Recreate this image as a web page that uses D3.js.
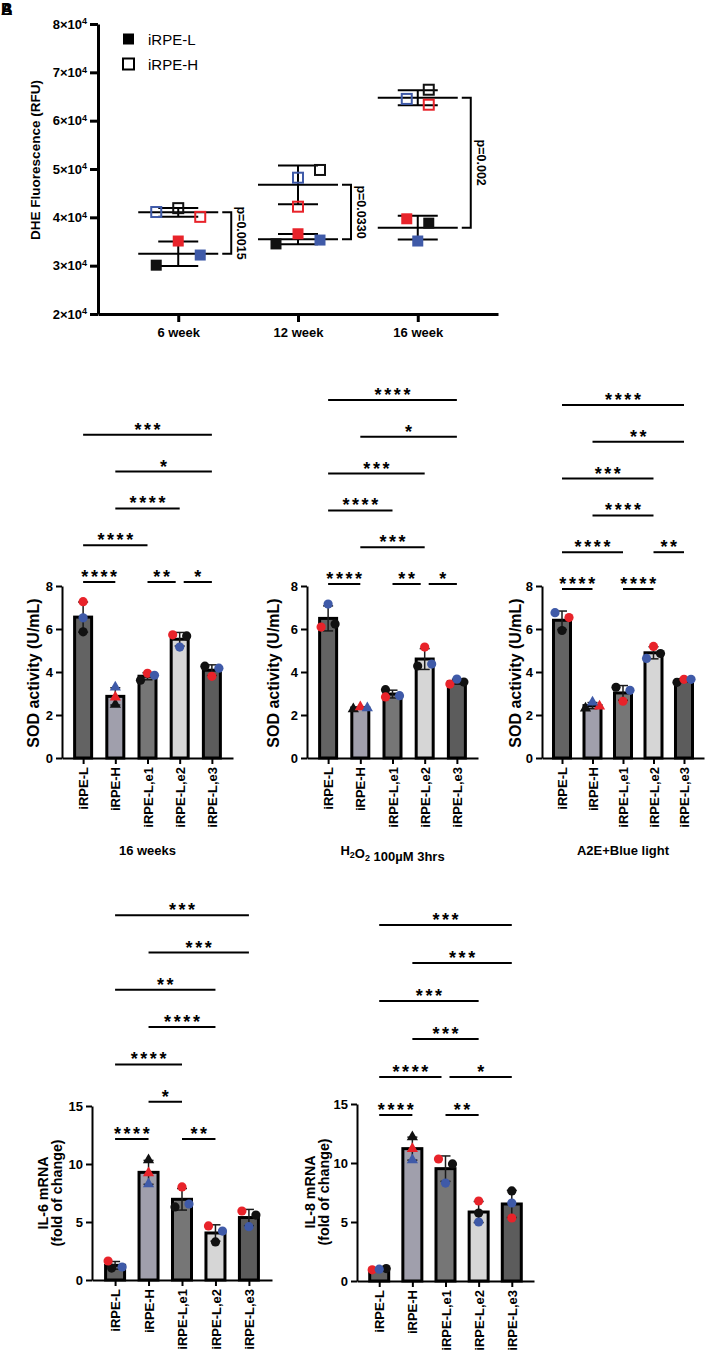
<!DOCTYPE html>
<html>
<head>
<meta charset="utf-8">
<script src="https://cdn.jsdelivr.net/npm/d3@7"></script>
<style>
body { margin: 0; background: #fff; }
svg { font-family: "Liberation Sans", Arial, Helvetica, sans-serif; }
</style>
</head>
<body>
<svg id="fig" width="707" height="1354"></svg>
<script>
// ---- data : A (DHE fluorescence) ----
const weeks = ["6 week", "12 week", "16 week"];
const dheTicks = [20000, 30000, 40000, 50000, 60000, 70000, 80000];
const dheL_black = [30100, 34500, 38800];
const dheL_red   = [35100, 36600, 39700];
const dheL_blue  = [32200, 35300, 35100];
const dheH_black = [41900, 49800, 66400];
const dheH_red   = [40100, 42200, 63300];
const dheH_blue  = [41100, 48200, 64500];
const dheP = ["p=0.0015", "p=0.0330", "p=0.002"];

// ---- data : SOD activity ----
const cats = ["iRPE-L", "iRPE-H", "iRPE-L,e1", "iRPE-L,e2", "iRPE-L,e3"];
const sodTicks = [0, 2, 4, 6, 8];
const sod16_black = [5.87, 2.49, 3.62, 5.68, 4.27];
const sod16_red   = [7.27, 2.82, 3.94, 5.73, 3.80];
const sod16_blue  = [6.52, 3.29, 3.85, 5.16, 4.18];
const sod16_sig = [[0,1,"****",0],[2,3,"**",0],[3,4,"*",0],[0,2,"****",1],[1,3,"****",2],[1,4,"*",3],[0,4,"***",4]];
const sodH2_black = [6.23, 2.28, 3.18, 4.28, 3.53];
const sodH2_red   = [6.09, 2.37, 2.84, 5.16, 3.44];
const sodH2_blue  = [7.16, 2.33, 2.90, 4.37, 3.67];
const sodH2_sig = [[0,1,"****",0],[2,3,"**",0],[3,4,"*",0],[1,3,"***",1],[0,2,"****",2],[0,3,"***",3],[1,4,"*",4],[0,4,"****",5]];
const sodA2E_black = [5.93, 2.31, 3.29, 4.86, 3.52];
const sodA2E_red   = [6.53, 2.41, 2.64, 5.19, 3.66];
const sodA2E_blue  = [6.76, 2.59, 3.15, 4.63, 3.66];
const sodA2E_sig = [[0,1,"****",0],[2,3,"****",0],[0,2,"****",1],[3,4,"**",1],[1,3,"****",2],[0,3,"***",3],[1,4,"**",4],[0,4,"****",5]];

// ---- data : IL-6 / IL-8 mRNA ----
const ilTicks = [0, 5, 10, 15];
const il6_black = [1.03, 10.34, 6.30, 3.28, 5.60];
const il6_red   = [1.64, 9.22, 8.02, 4.66, 5.95];
const il6_blue  = [1.12, 8.28, 6.55, 4.22, 4.60];
const il6_sig = [[0,1,"****",0],[2,3,"**",0],[1,2,"*",1],[0,2,"****",2],[1,3,"****",3],[0,3,"**",4],[1,4,"***",5],[0,4,"***",6]];
const il8_black = [1.05, 12.2, 9.92, 5.76, 7.63];
const il8_red   = [0.95, 11.2, 10.34, 6.78, 5.34];
const il8_blue  = [1.00, 10.25, 8.30, 5.00, 6.61];
const il8_sig = [[0,1,"****",0],[2,3,"**",0],[0,2,"****",1],[2,4,"*",1],[1,3,"***",2],[0,3,"***",3],[1,4,"***",4],[0,4,"***",5]];

// horizontal spread of the replicate dots (in slots), layout only
const dheJitL = {black: [-2, -2, 1], red: [0, 0, -1], blue: [2, 2, 0]};
const dheJitH = {black: [0, 2, 1], red: [2, 0, 1], blue: [-2, 0, -1]};
const sod16Jit = {black: [0,0,-1,1,-1], red: [0,0,0,-1,0], blue: [0,0,1,0,1]};
const sodH2Jit = {black: [1,-1,-1,-1,1], red: [-1,0,-1,0,-1], blue: [0,1,1,1,0]};
const sodA2EJit = {black: [0,-1,-1,1,-1], red: [1,1,0,0,0], blue: [-1,0,1,-1,1]};
const il6Jit = {black: [-0.5,0,-1,0,1], red: [-1,0,0,-1,-1], blue: [1,0,1,1,0]};
const il8Jit = {black: [1,0,1,0,0], red: [-1,0,-1,0,0], blue: [0,0,0,0,0]};

const repCol = {black: "#111111", red: "#e8232a", blue: "#3f5aa8"};
const barFill = ["#636363", "#a09fac", "#767676", "#d6d6d6", "#5c5c5c"];

const svg = d3.select("#fig");

function styleAxis(ax, w) {
  ax.attr("font-family", null).attr("font-size", null);
  ax.select(".domain").attr("stroke", "#000").attr("stroke-width", w);
  ax.selectAll(".tick line").attr("stroke", "#000").attr("stroke-width", w);
  ax.selectAll(".tick text").attr("fill", "#000").style("font-weight", "bold").style("font-size", "13px");
}

// panel letters (overlapping in the source)
svg.append("text").attr("x", 1).attr("y", 15).style("font-weight", "bold").style("font-size", "16px").text("A");
svg.append("text").attr("x", 1).attr("y", 15).style("font-weight", "bold").style("font-size", "16px").text("B");

// ================= A : DHE =================
const yA = d3.scaleLinear().domain([20000, 80000]).range([314, 24]);
const xA = d3.scalePoint().domain(weeks).range([98, 498]).padding(0.67);

const axYA = svg.append("g").attr("transform", "translate(98,0)")
  .call(d3.axisLeft(yA).tickValues(dheTicks).tickSize(8).tickSizeOuter(0));
styleAxis(axYA, 3);
axYA.selectAll(".tick text").text(null).each(function(d) {
  const t = d3.select(this);
  t.append("tspan").text(d / 10000 + "×10");
  t.append("tspan").attr("dy", "-0.5em").style("font-size", "9px").text("4");
});

const axXA = svg.append("g").attr("transform", "translate(0,314)")
  .call(d3.axisBottom(xA).tickSize(8).tickSizeOuter(0));
styleAxis(axXA, 3);
axXA.selectAll(".tick text").attr("y", 14);

svg.append("text").attr("transform", "translate(35,160) rotate(-90)")
  .attr("text-anchor", "middle").attr("dy", "0.35em")
  .style("font-weight", "bold").style("font-size", "13.5px")
  .text("DHE Fluorescence (RFU)");

// legend
[["iRPE-L", false, 39], ["iRPE-H", true, 64]].forEach(([lab, open, ly]) => {
  svg.append("rect").attr("x", 123).attr("y", ly - 5.5).attr("width", 11).attr("height", 11)
    .attr("fill", open ? "none" : "#000").attr("stroke", "#000").attr("stroke-width", open ? 2 : 0);
  svg.append("text").attr("x", 148).attr("y", ly + 5.5).style("font-size", "15px").text(lab);
});

const gA = svg.append("g");
weeks.forEach((w, i) => {
  const cx = xA(w);
  const groups = [
    {open: false, reps: {black: dheL_black[i], red: dheL_red[i], blue: dheL_blue[i]}, jit: dheJitL},
    {open: true,  reps: {black: dheH_black[i], red: dheH_red[i], blue: dheH_blue[i]}, jit: dheJitH}
  ];
  const means = [];
  groups.forEach(g => {
    const vals = Object.values(g.reps);
    const m = d3.mean(vals), s = d3.deviation(vals);
    means.push(yA(m));
    gA.append("line").attr("x1", cx - 40).attr("x2", cx + 40).attr("y1", yA(m)).attr("y2", yA(m))
      .attr("stroke", "#000").attr("stroke-width", 2);
    gA.append("line").attr("x1", cx).attr("x2", cx).attr("y1", yA(m - s)).attr("y2", yA(m + s))
      .attr("stroke", "#000").attr("stroke-width", 2);
    [m - s, m + s].forEach(v => gA.append("line").attr("x1", cx - 20).attr("x2", cx + 20)
      .attr("y1", yA(v)).attr("y2", yA(v)).attr("stroke", "#000").attr("stroke-width", 2));
  });
  groups.forEach(g => {
    Object.keys(g.reps).forEach(k => {
      const px = cx + g.jit[k][i] * 11, py = yA(g.reps[k]);
      if (g.open) {
        gA.append("rect").attr("x", px - 5).attr("y", py - 5).attr("width", 10).attr("height", 10)
          .attr("fill", "none").attr("stroke", repCol[k]).attr("stroke-width", 2);
      } else {
        gA.append("rect").attr("x", px - 5.5).attr("y", py - 5.5).attr("width", 11).attr("height", 11)
          .attr("fill", repCol[k]);
      }
    });
  });
  // significance bracket
  gA.append("path")
    .attr("d", `M${cx + 44},${means[1]}H${cx + 53}V${means[0]}H${cx + 44}`)
    .attr("fill", "none").attr("stroke", "#000").attr("stroke-width", 2);
  gA.append("text").attr("transform", `translate(${cx + 59},${(means[0] + means[1]) / 2}) rotate(90)`)
    .attr("text-anchor", "middle").style("font-weight", "bold").style("font-size", "12.5px")
    .text(dheP[i]);
});

// ================= bar panels =================
function barPanel(p) {
  const g = svg.append("g");
  const x = d3.scalePoint().domain(cats).range([p.x0, p.x1]).padding(p.pad);
  const y = d3.scaleLinear().domain([0, p.max]).range([p.y0, p.y1]);

  cats.forEach((c, i) => {
    const reps = {black: p.black[i], red: p.red[i], blue: p.blue[i]};
    const vals = Object.values(reps);
    const m = d3.mean(vals), s = d3.deviation(vals);
    const cx = x(c);
    g.append("rect").attr("x", cx - p.bw / 2).attr("y", y(m)).attr("width", p.bw).attr("height", y(0) - y(m))
      .attr("fill", barFill[i]).attr("stroke", "#000").attr("stroke-width", 3);
    g.append("line").attr("x1", cx).attr("x2", cx).attr("y1", y(m - s)).attr("y2", y(m + s))
      .attr("stroke", "#1a1a1a").attr("stroke-width", 1.5);
    [m - s, m + s].forEach(v => g.append("line").attr("x1", cx - 5).attr("x2", cx + 5)
      .attr("y1", y(v)).attr("y2", y(v)).attr("stroke", "#1a1a1a").attr("stroke-width", 1.5));
    Object.keys(reps).forEach(k => {
      const px = cx + p.jit[k][i] * 7, py = y(reps[k]);
      if (i === 1) {
        g.append("path").attr("d", d3.symbol(d3.symbolTriangle, 55)())
          .attr("transform", `translate(${px},${py})`).attr("fill", repCol[k]);
      } else {
        g.append("circle").attr("cx", px).attr("cy", py).attr("r", 4.6).attr("fill", repCol[k]);
      }
    });
  });

  const ay = g.append("g").attr("transform", `translate(${p.x0},0)`)
    .call(d3.axisLeft(y).tickValues(p.ticks).tickSize(6).tickSizeOuter(0));
  styleAxis(ay, 2);
  const ax = g.append("g").attr("transform", `translate(0,${p.y0})`)
    .call(d3.axisBottom(x).tickSize(6).tickSizeOuter(0));
  styleAxis(ax, 2);
  ax.selectAll(".tick text").attr("transform", "rotate(-90)").attr("x", -9).attr("y", 0)
    .attr("dy", "0.35em").style("text-anchor", "end");

  // y title
  p.title.forEach((t, j) => {
    g.append("text").attr("transform", `translate(${p.titleX[j]},${p.titleY}) rotate(-90)`)
      .attr("text-anchor", "middle").attr("dy", "0.35em")
      .style("font-weight", "bold").style("font-size", p.titleSize).text(t);
  });

  // condition label under the panel
  if (p.cond) {
    const t = g.append("text").attr("x", (x(cats[0]) + x(cats[4])) / 2).attr("y", p.condY)
      .attr("text-anchor", "middle").style("font-weight", "bold").style("font-size", "13px");
    p.cond.forEach(([s, sub]) => {
      t.append("tspan").attr("dy", sub ? 3 : 0).style("font-size", sub ? "9px" : null).text(s);
      if (sub) t.append("tspan").attr("dy", -3).text("");
    });
  }

  // significance lines
  p.sig.forEach(sg => {
    const [a, b, lab, row] = sg;
    let xa = x(cats[a]), xb = x(cats[b]);
    if (p.sig.some(q => q !== sg && q[3] === row && q[1] === a)) xa += 4;
    if (p.sig.some(q => q !== sg && q[3] === row && q[0] === b)) xb -= 4;
    const yy = p.sigBase - row * p.sigStep;
    g.append("line").attr("x1", xa).attr("x2", xb).attr("y1", yy).attr("y2", yy)
      .attr("stroke", "#000").attr("stroke-width", 2);
    g.append("text").attr("x", (xa + xb) / 2 + 1.3).attr("y", yy + 1)
      .attr("text-anchor", "middle").style("font-size", "18px").style("font-weight", "bold")
      .style("letter-spacing", "2.6px").text(lab);
  });
  return g;
}

const sodCommon = {max: 8, ticks: sodTicks, y0: 758, y1: 586, bw: 17, pad: 0.656,
  title: ["SOD activity (U/mL)"], titleY: 673, titleSize: "16px", sigStep: 36.8, condY: 855};

barPanel(Object.assign({}, sodCommon, {x0: 62, x1: 233, black: sod16_black, red: sod16_red, blue: sod16_blue,
  jit: sod16Jit, sig: sod16_sig, sigBase: 582, titleX: [33], cond: [["16 weeks"]]}));
barPanel(Object.assign({}, sodCommon, {x0: 307, x1: 478, black: sodH2_black, red: sodH2_red, blue: sodH2_blue,
  jit: sodH2Jit, sig: sodH2_sig, sigBase: 584, titleX: [273],
  cond: [["H"], ["2", true], ["O"], ["2", true], [" 100µM 3hrs"]]}));
barPanel(Object.assign({}, sodCommon, {x0: 542, x1: 704, black: sodA2E_black, red: sodA2E_red, blue: sodA2E_blue,
  jit: sodA2EJit, sig: sodA2E_sig, sigBase: 589, titleX: [515], cond: [["A2E+Blue light"]]}));

const ilCommon = {max: 15, ticks: ilTicks, bw: 19, titleSize: "14.3px"};
barPanel(Object.assign({}, ilCommon, {x0: 92, x1: 272, pad: 0.69, y0: 1280, y1: 1106,
  black: il6_black, red: il6_red, blue: il6_blue, jit: il6Jit, sig: il6_sig, sigBase: 1139, sigStep: 37.3,
  title: ["IL-6 mRNA", "(fold of change)"], titleX: [43, 57], titleY: 1193}));
barPanel(Object.assign({}, ilCommon, {x0: 357, x1: 534, pad: 0.67, y0: 1281, y1: 1104,
  black: il8_black, red: il8_red, blue: il8_blue, jit: il8Jit, sig: il8_sig, sigBase: 1115, sigStep: 38,
  title: ["IL-8 mRNA", "(fold of change)"], titleX: [310, 324], titleY: 1192}));
</script>
</body>
</html>
